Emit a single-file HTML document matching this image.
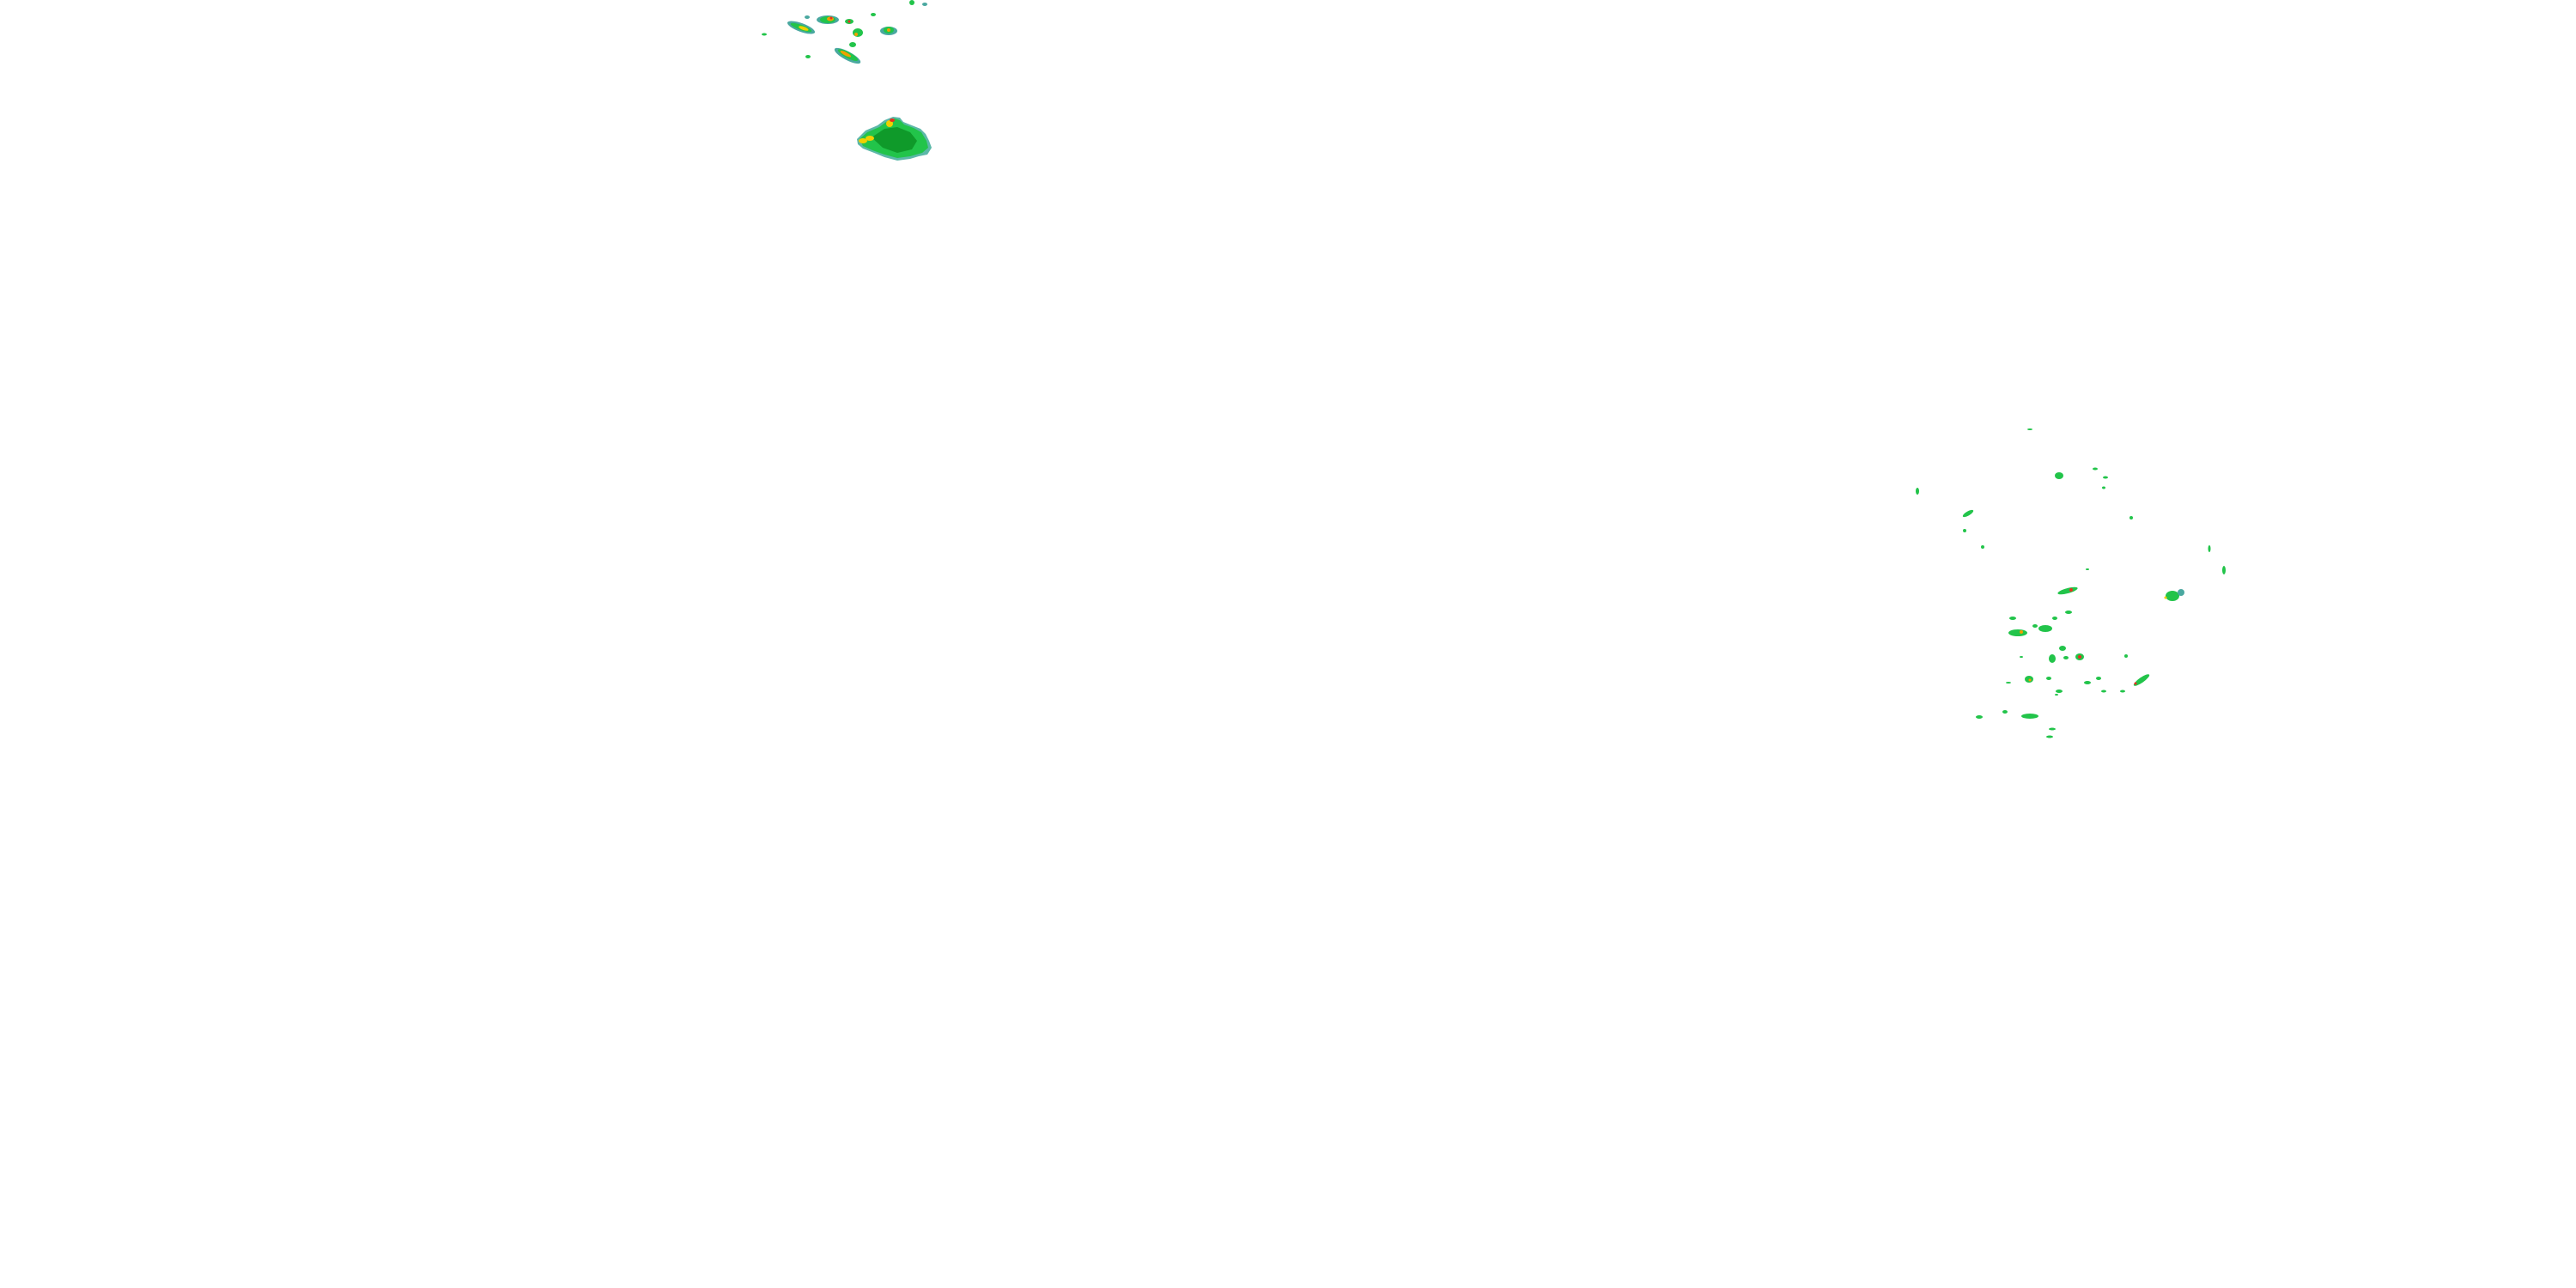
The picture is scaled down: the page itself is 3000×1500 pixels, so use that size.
<!DOCTYPE html>
<html><head><meta charset="utf-8"><style>html,body{margin:0;padding:0;background:#fff;width:3000px;height:1500px;overflow:hidden}</style></head>
<body>
<svg width="3000" height="1500" viewBox="0 0 3000 1500" xmlns="http://www.w3.org/2000/svg">
<rect width="3000" height="1500" fill="#fff"/>
<!-- main blob -->
<path d="M998,162 L1008,152 L1022,146 L1030,140 L1040,136 L1048,137 L1052,142 L1062,146 L1072,150 L1078,156 L1082,164 L1085,172 L1080,180 L1070,182 L1060,185 L1045,187 L1030,183 L1018,178 L1005,173 L999,168 Z" fill="#5cb8a8"/>
<path d="M1001,162 L1010,154 L1024,148 L1032,142 L1042,138 L1048,140 L1053,145 L1064,149 L1073,154 L1079,164 L1081,172 L1074,178 L1060,182 L1045,184 L1030,180 L1016,175 L1005,170 Z" fill="#22c44a"/>
<path d="M1015,160 L1030,150 L1045,148 L1060,154 L1068,164 L1062,174 L1045,178 L1028,172 Z" fill="#0f9a2a"/>
<ellipse cx="1005" cy="164" rx="5" ry="3" fill="#f0d000"/>
<ellipse cx="1013" cy="161" rx="5" ry="3" fill="#f0d000"/>
<ellipse cx="1036" cy="144" rx="4" ry="4" fill="#f0d000"/>
<ellipse cx="1039" cy="140" rx="3" ry="2" fill="#e83020"/>
<g id="cells">
<!-- upper cluster -->
<g transform="rotate(20 933 32)"><ellipse cx="933" cy="32" rx="17" ry="5" fill="#4aa8a0"/><ellipse cx="933" cy="32" rx="13" ry="3" fill="#22c44a"/><ellipse cx="936" cy="32" rx="6" ry="2" fill="#f0d000"/></g>
<ellipse cx="964" cy="23" rx="13" ry="5" fill="#4aa8a0"/><ellipse cx="964" cy="23" rx="9" ry="4" fill="#22c44a"/><ellipse cx="967" cy="22" rx="4" ry="2.5" fill="#f0a000"/><circle cx="968" cy="21" r="1.5" fill="#e83020"/>
<ellipse cx="989" cy="25" rx="5" ry="3" fill="#22c44a"/><circle cx="989" cy="25" r="1.5" fill="#e83020"/>
<ellipse cx="999" cy="38" rx="6" ry="5" fill="#22c44a"/><circle cx="997" cy="40" r="2" fill="#f0a000"/>
<ellipse cx="1035" cy="36" rx="10" ry="5" fill="#4aa8a0"/><ellipse cx="1035" cy="35" rx="6" ry="4" fill="#22c44a"/><circle cx="1035" cy="35" r="2" fill="#f0a000"/>
<g transform="rotate(28 987 65)"><ellipse cx="987" cy="65" rx="17" ry="5" fill="#4aa8a0"/><ellipse cx="987" cy="64" rx="13" ry="3.5" fill="#22c44a"/><ellipse cx="984" cy="64" rx="7" ry="2" fill="#f0a000"/></g>
<ellipse cx="993" cy="52" rx="4" ry="3" fill="#22c44a"/>
<ellipse cx="890" cy="40" rx="3" ry="1.5" fill="#22c44a"/>
<ellipse cx="1017" cy="17" rx="3" ry="2" fill="#22c44a"/>
<ellipse cx="1062" cy="3" rx="3" ry="3" fill="#22c44a"/>
<ellipse cx="940" cy="20" rx="3" ry="2" fill="#4aa8a0"/>
<ellipse cx="941" cy="66" rx="3" ry="2" fill="#22c44a"/>
<ellipse cx="1077" cy="5" rx="3" ry="2" fill="#4aa8a0"/>
<!-- right cluster -->
<g fill="#22c44a">
<g transform="rotate(-15 2408 688)"><ellipse cx="2408" cy="688" rx="12" ry="3"/></g><circle cx="2412" cy="687" r="2" fill="#e83020"/>
<ellipse cx="2530" cy="694" rx="8" ry="6"/><ellipse cx="2540" cy="690" rx="4" ry="4" fill="#4aa8a0"/><circle cx="2522" cy="696" r="1.5" fill="#f0d000"/>
<ellipse cx="2350" cy="737" rx="11" ry="4"/><circle cx="2354" cy="736" r="2" fill="#f0a000"/>
<ellipse cx="2382" cy="732" rx="8" ry="4"/>
<ellipse cx="2370" cy="729" rx="3" ry="2"/>
<ellipse cx="2422" cy="765" rx="5" ry="4"/><circle cx="2422" cy="765" r="2" fill="#e83020"/>
<ellipse cx="2402" cy="755" rx="4" ry="3"/>
<ellipse cx="2390" cy="767" rx="4" ry="5"/>
<ellipse cx="2406" cy="766" rx="3" ry="2"/>
<ellipse cx="2363" cy="791" rx="5" ry="4"/><circle cx="2364" cy="792" r="1.5" fill="#f0a000"/>
<g transform="rotate(-35 2494 792)"><ellipse cx="2494" cy="792" rx="11" ry="3"/></g><circle cx="2487" cy="796" r="1.5" fill="#e83020"/>
<ellipse cx="2364" cy="834" rx="10" ry="3"/>
<ellipse cx="2398" cy="554" rx="5" ry="4"/>
<g transform="rotate(-30 2292 598)"><ellipse cx="2292" cy="598" rx="7" ry="2.5"/></g>
<ellipse cx="2233" cy="572" rx="2" ry="4"/>
<ellipse cx="2590" cy="664" rx="2" ry="5"/>
<ellipse cx="2573" cy="639" rx="1.5" ry="4"/>
<ellipse cx="2305" cy="835" rx="4" ry="2"/>
<ellipse cx="2364" cy="500" rx="3" ry="1"/>
<ellipse cx="2440" cy="546" rx="3" ry="1.5"/>
<ellipse cx="2452" cy="556" rx="3" ry="1.5"/>
<ellipse cx="2450" cy="568" rx="2" ry="1.5"/>
<ellipse cx="2482" cy="603" rx="2" ry="2"/>
<ellipse cx="2288" cy="618" rx="2" ry="2"/>
<ellipse cx="2309" cy="637" rx="2" ry="2"/>
<ellipse cx="2431" cy="663" rx="2" ry="1"/>
<ellipse cx="2393" cy="720" rx="3" ry="2"/>
<ellipse cx="2409" cy="713" rx="4" ry="2"/>
<ellipse cx="2344" cy="720" rx="4" ry="2"/>
<ellipse cx="2354" cy="765" rx="2" ry="1"/>
<ellipse cx="2386" cy="790" rx="3" ry="2"/>
<ellipse cx="2431" cy="795" rx="4" ry="2"/>
<ellipse cx="2444" cy="790" rx="3" ry="2"/>
<ellipse cx="2450" cy="805" rx="3" ry="1.5"/>
<ellipse cx="2472" cy="805" rx="3" ry="1.5"/>
<ellipse cx="2339" cy="795" rx="3" ry="1"/>
<ellipse cx="2398" cy="805" rx="4" ry="2"/>
<ellipse cx="2395" cy="809" rx="2" ry="1"/>
<ellipse cx="2476" cy="764" rx="2" ry="2"/>
<ellipse cx="2335" cy="829" rx="3" ry="2"/>
<ellipse cx="2390" cy="849" rx="4" ry="1.5"/>
<ellipse cx="2387" cy="858" rx="4" ry="1.5"/>
</g>
</g>
</svg>
</body></html>
